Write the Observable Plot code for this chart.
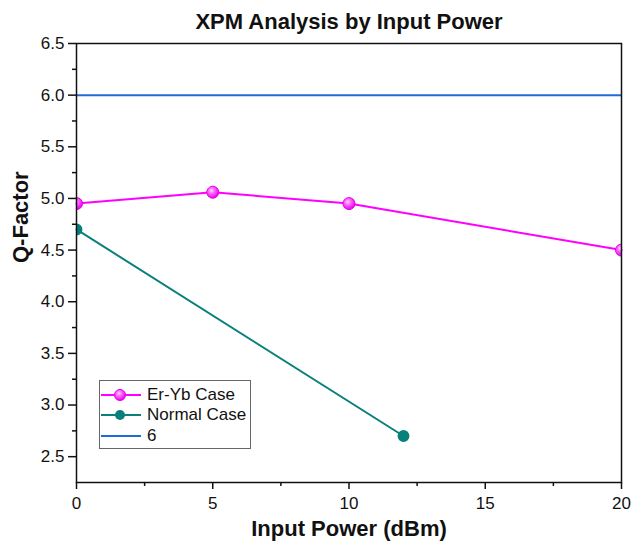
<!DOCTYPE html>
<html>
<head>
<meta charset="utf-8">
<script src="https://cdn.jsdelivr.net/npm/d3@7"></script>
<script src="https://cdn.jsdelivr.net/npm/@observablehq/plot@0.6"></script>
<style>
  html, body { margin: 0; padding: 0; background: #fff; }
  #wrap { position: relative; width: 633px; height: 545px; font-family: "Liberation Sans", Arial, sans-serif; }
  #legend { position: absolute; left: 99px; top: 380px; width: 152px; height: 69px; border: 1px solid #666; background: #fff; box-sizing: border-box; }
  .li { position: absolute; left: 0; height: 20px; display: flex; align-items: center; font-size: 17px; color: #111; }
  .li svg { margin-right: 3px; }
</style>
</head>
<body>
<div id="wrap"></div>
<script>
// Data
const title = "XPM Analysis by Input Power";
const xLabel = "Input Power (dBm)";
const yLabel = "Q-Factor";
const erYbPower = [0, 5, 10, 20];
const erYbQ = [4.95, 5.06, 4.95, 4.5];
const normalPower = [0, 12];
const normalQ = [4.7, 2.7];
const refLevel = 6;
const seriesNames = ["Er-Yb Case", "Normal Case", "6"];
const colors = ["#ff00ff", "#0a807b", "#1f6bd8"];
const xMajor = [0, 5, 10, 15, 20];
const xMinor = [2.5, 7.5, 12.5, 17.5];
const yMajor = [2.5, 3.0, 3.5, 4.0, 4.5, 5.0, 5.5, 6.0, 6.5];
const yMinor = [2.75, 3.25, 3.75, 4.25, 4.75, 5.25, 5.75, 6.25];

const erYb = erYbPower.map((p, i) => ({x: p, y: erYbQ[i]}));
const normal = normalPower.map((p, i) => ({x: p, y: normalQ[i]}));

const plot = Plot.plot({
  width: 633,
  height: 545,
  marginTop: 43,
  marginBottom: 63,
  marginLeft: 76,
  marginRight: 12,
  style: {fontFamily: "Liberation Sans, Arial, sans-serif", fontSize: "17px", color: "#111", background: "#fff"},
  x: {domain: [0, 20]},
  y: {domain: [2.25, 6.5]},
  marks: [
    Plot.ruleY([refLevel], {stroke: colors[2], strokeWidth: 2}),
    Plot.line(erYb, {x: "x", y: "y", stroke: colors[0], strokeWidth: 2}),
    Plot.line(normal, {x: "x", y: "y", stroke: colors[1], strokeWidth: 2}),
    Plot.dot(erYb, {x: "x", y: "y", r: 6, fill: "url(#sphereMag)", stroke: "#e600e6", strokeWidth: 1, clip: true}),
    Plot.dot(normal, {x: "x", y: "y", r: 5.2, fill: colors[1], stroke: colors[1], clip: true}),
    Plot.frame({stroke: "#111", strokeWidth: 1.5}),
    Plot.axisX(xMajor, {tickSize: 7, tickPadding: 7, tickFormat: d => String(d), label: null, stroke: "#111", strokeWidth: 1.5, fontSize: 17}),
    Plot.axisX(xMinor, {tickSize: 4, tickFormat: () => "", label: null, stroke: "#111", strokeWidth: 1.5}),
    Plot.axisY(yMajor, {tickSize: 8, tickPadding: 4, tickFormat: d3.format(".1f"), label: null, stroke: "#111", strokeWidth: 1.5, fontSize: 17}),
    Plot.axisY(yMinor, {tickSize: 4, tickFormat: () => "", label: null, stroke: "#111", strokeWidth: 1.5}),
    Plot.text([title], {frameAnchor: "top", dy: -22, fontWeight: "bold", fontSize: 22, lineAnchor: "middle", fill: "#111"}),
    Plot.text([xLabel], {frameAnchor: "bottom", dy: 46, fontWeight: "bold", fontSize: 22, lineAnchor: "middle", fill: "#111"}),
    Plot.text([yLabel], {frameAnchor: "left", dx: -56, rotate: -90, fontWeight: "bold", fontSize: 22, lineAnchor: "middle", fill: "#111"})
  ]
});

// gradient for sphere-like markers
const svg = d3.select(plot);
const defs = svg.insert("defs", ":first-child");
const g = defs.append("radialGradient").attr("id", "sphereMag").attr("cx", "40%").attr("cy", "35%").attr("r", "65%");
g.append("stop").attr("offset", "0%").attr("stop-color", "#ffe0ff");
g.append("stop").attr("offset", "35%").attr("stop-color", "#ff70ff");
g.append("stop").attr("offset", "100%").attr("stop-color", "#e800e8");

const wrap = document.getElementById("wrap");
wrap.appendChild(plot);

// legend
const legend = document.createElement("div");
legend.id = "legend";
const items = [
  {name: seriesNames[0], color: colors[0], marker: "sphere"},
  {name: seriesNames[1], color: colors[1], marker: "dot"},
  {name: seriesNames[2], color: colors[2], marker: null}
];
const tops = [4, 24, 45];
items.forEach((it, i) => {
  const d = document.createElement("div");
  d.className = "li";
  d.style.top = tops[i] + "px";
  let m = "";
  if (it.marker === "sphere") m = `<circle cx="20" cy="10" r="5.5" fill="url(#sphereMag)" stroke="#e600e6"/>`;
  if (it.marker === "dot") m = `<circle cx="20" cy="10" r="5" fill="${it.color}"/>`;
  d.innerHTML = `<svg width="44" height="20"><line x1="1" x2="41" y1="10" y2="10" stroke="${it.color}" stroke-width="2"/>${m}</svg><span>${it.name}</span>`;
  legend.appendChild(d);
});
wrap.appendChild(legend);
</script>
</body>
</html>
